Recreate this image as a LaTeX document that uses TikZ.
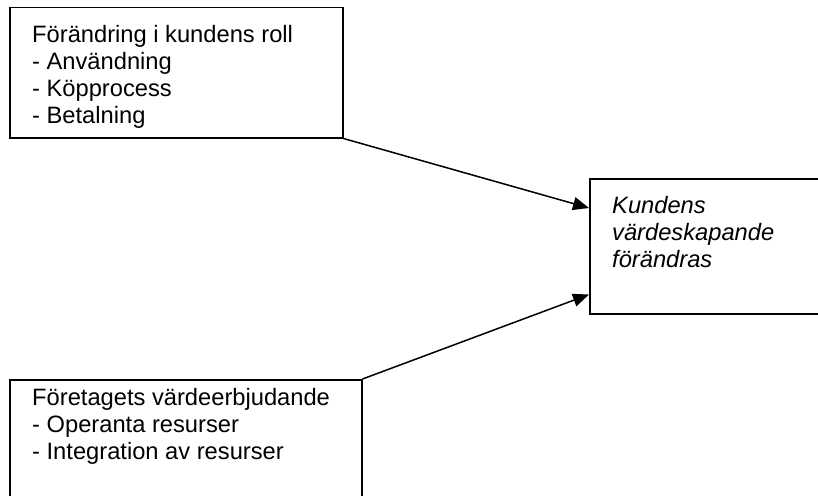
\documentclass[tikz,border=0pt]{standalone}
\usepackage{fontspec}
\setmainfont{Liberation Sans}
\usepackage{tikz}
\usetikzlibrary{arrows.meta, positioning}

\begin{document}
\begin{tikzpicture}[x=1pt, y=-1pt]
        % Setup the styles for the boxes and texts
        \tikzset{box style/.style={draw, line width=1.5pt,
                                   anchor=north west, inner sep=0pt},
                 text style/.style={anchor=north west, align=left,
                                    inner sep=0pt,
                                    font=\fontsize{23.7}{27}\selectfont},
                 arrow style/.style={-{Triangle[length=16pt, width=13pt]}}}
        \useasboundingbox (0,0) rectangle (818,495);

        % Draw the boxes
        \node[box style, minimum width=333pt, minimum height=130pt] at (9,7)   (roll)  {};
        \node[box style, minimum width=250pt, minimum height=135pt] at (589,178) (varde) {};
        \node[box style, minimum width=352pt, minimum height=140pt] at (9,379) (erbj)  {};

        % Texts
        \node[text style] at (32,25)  (rolltext)  {Förändring i kundens roll\\- Användning\\- Köpprocess\\- Betalning};
        \node[text style] at (612,196) (vardetext) {\itshape Kundens\\\itshape värdeskapande\\\itshape förändras};
        \node[text style] at (32,388) (erbjtext)  {Företagets värdeerbjudande\\- Operanta resurser\\- Integration av resurser};

        % Connect the boxes with arrows
        \draw[line width=1.5pt]
            (roll.south east)  edge[arrow style] ([yshift=-30pt]varde.north west)
            (erbj.north east)  edge[arrow style] ([yshift=20pt]varde.south west);
\end{tikzpicture}
\end{document}
